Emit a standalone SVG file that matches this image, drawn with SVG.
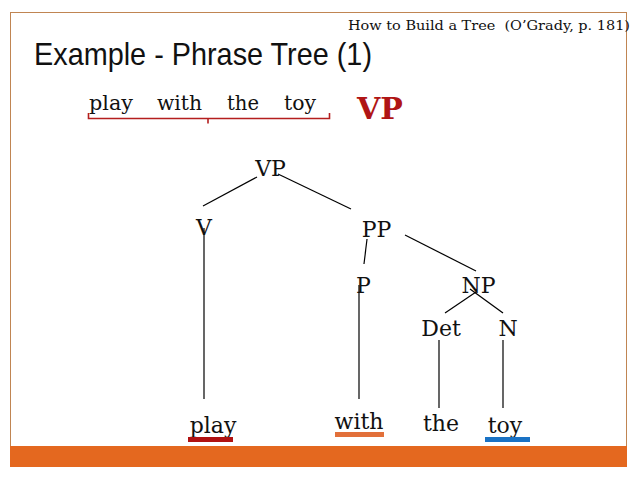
<svg xmlns="http://www.w3.org/2000/svg" width="638" height="479" viewBox="0 0 638 479">
<style>
.lbl{font-family:"DejaVu Serif","Liberation Serif",serif;font-size:22px;fill:#111;text-anchor:middle}
.top{font-family:"DejaVu Serif","Liberation Serif",serif;font-size:21px;fill:#111}
.edge{stroke:#000;stroke-width:1.2;fill:none}
</style>
<rect x="0" y="0" width="638" height="479" fill="#fff"/>
<rect x="10.5" y="12.5" width="616" height="454" fill="none" stroke="#c08552" stroke-width="1"/>
<rect x="10" y="446" width="617" height="21" fill="#e4681f"/>
<text x="630" y="30" font-family="DejaVu Serif, Liberation Serif, serif" font-size="13" text-anchor="end" fill="#111" textLength="282" lengthAdjust="spacingAndGlyphs">How to Build a Tree&#160; (O’Grady, p. 181)</text>
<text x="34" y="65" font-family="Liberation Sans, Arial, sans-serif" font-size="32" fill="#111" textLength="338" lengthAdjust="spacingAndGlyphs">Example - Phrase Tree (1)</text>
<g id="phrase">
<text class="top" x="89" y="110" textLength="44" lengthAdjust="spacingAndGlyphs">play</text>
<text class="top" x="157" y="110" textLength="45" lengthAdjust="spacingAndGlyphs">with</text>
<text class="top" x="227" y="110" textLength="32" lengthAdjust="spacingAndGlyphs">the</text>
<text class="top" x="284" y="110" textLength="32" lengthAdjust="spacingAndGlyphs">toy</text>
<path d="M88.5,113 V118.5 H208 V123.5 M208,118.5 H329.5 V113" fill="none" stroke="#b41e1e" stroke-width="1.6"/>
<text x="357" y="119" font-family="DejaVu Serif, Liberation Serif, serif" font-size="30" font-weight="bold" fill="#b01515">VP</text>
</g>
<g id="connectors">
<line class="edge" x1="257" y1="177" x2="203" y2="206"/>
<line class="edge" x1="278" y1="174" x2="351" y2="209"/>
<line class="edge" x1="204" y1="228" x2="204" y2="399"/>
<line class="edge" x1="367" y1="239" x2="364" y2="264"/>
<line class="edge" x1="405" y1="235" x2="476" y2="271"/>
<line class="edge" x1="359" y1="285" x2="359" y2="399"/>
<line class="edge" x1="476" y1="292" x2="445" y2="313"/>
<line class="edge" x1="470" y1="289" x2="503" y2="313"/>
<line class="edge" x1="439" y1="340" x2="439" y2="408"/>
<line class="edge" x1="503" y1="340" x2="503" y2="408"/>
</g>
<g id="n-VP"><text class="lbl" x="270.5" y="176">VP</text></g>
<g id="n-V"><text class="lbl" x="204" y="235">V</text></g>
<g id="n-PP"><text class="lbl" x="376.5" y="237">PP</text></g>
<g id="n-P"><text class="lbl" x="363.5" y="293">P</text></g>
<g id="n-NP"><text class="lbl" x="478.5" y="293">NP</text></g>
<g id="n-Det"><text class="lbl" x="441" y="336">Det</text></g>
<g id="n-N"><text class="lbl" x="508" y="336">N</text></g>
<g id="w-play"><text class="lbl" x="213" y="433">play</text><rect x="188" y="437" width="45" height="5" fill="#b01212"/></g>
<g id="w-with"><text class="lbl" x="359" y="429">with</text><rect x="335" y="432" width="49" height="5" fill="#e2703a"/></g>
<g id="w-the"><text class="lbl" x="441" y="431">the</text></g>
<g id="w-toy"><text class="lbl" x="505" y="433">toy</text><rect x="485" y="437" width="45" height="5" fill="#1a72c4"/></g>
</svg>
